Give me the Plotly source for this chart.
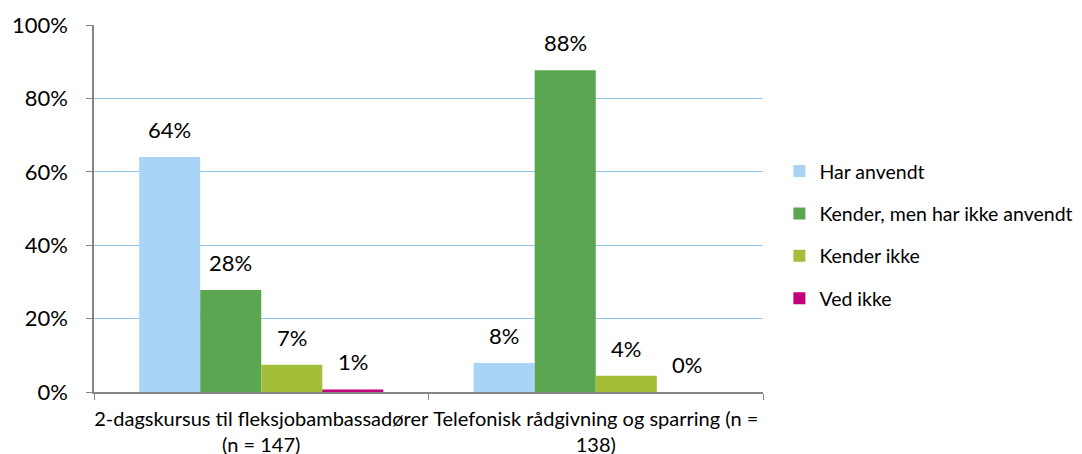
import plotly.graph_objects as go

categories = ["2-dagskursus til fleksjobambassadører<br>(n = 147)",
              "Telefonisk rådgivning og sparring (n =<br>138)"]
series_names = ["Har anvendt", "Kender, men har ikke anvendt", "Kender ikke", "Ved ikke"]
har_anvendt = [64.0, 7.9]
kender_ikke_anvendt = [27.8, 87.7]
kender_ikke = [7.4, 4.4]
ved_ikke = [0.7, 0.0]
labels = [["64%", "8%"], ["28%", "88%"], ["7%", "4%"], ["1%", "0%"]]
colors = ["#A9D4F5", "#5BA651", "#A3BE39", "#C3007A"]
y_ticks = [0, 20, 40, 60, 80, 100]
y_tick_text = ["0%", "20%", "40%", "60%", "80%", "100%"]

FONT = "Lato"
BARGAP = 0.27
series = [har_anvendt, kender_ikke_anvendt, kender_ikke, ved_ikke]
n_series = len(series)

fig = go.Figure()
for i, (name, vals) in enumerate(zip(series_names, series)):
    fig.add_trace(go.Bar(
        x=categories, y=vals, name=name, marker_color=colors[i],
        marker_line_width=0, legendgroup=name,
    ))
    # data labels anchored at the data value, centred on the bar's slot in the group
    bar_w = (1 - BARGAP) / n_series
    for ci, (v, t) in enumerate(zip(vals, labels[i])):
        fig.add_annotation(
            x=ci + (i - (n_series - 1) / 2) * bar_w, y=v, xref="x", yref="y",
            text=t, showarrow=False, yanchor="bottom", yshift=12,
            font=dict(size=22, family=FONT, color="#000000"),
        )

# the page body adds an 8px margin, so the plot area is shifted up/left by 8px
fig.update_layout(
    barmode="group", bargap=BARGAP, bargroupgap=0,
    width=1110, height=454,
    margin=dict(l=86, r=355, t=17, b=70, autoexpand=False),
    paper_bgcolor="white", plot_bgcolor="white",
    font=dict(family=FONT, color="#000000"),
    showlegend=True,
    legend=dict(x=1.0245, y=0.428, xanchor="left", yanchor="middle",
                font=dict(size=19.5, family=FONT), tracegroupgap=14,
                itemwidth=30, traceorder="grouped"),
)
fig.update_yaxes(range=[0, 100], tickvals=y_ticks, ticktext=y_tick_text,
                 showgrid=True, gridcolor="#8EC6EE", gridwidth=1,
                 showline=True, linecolor="#868686", linewidth=1.5,
                 ticks="outside", ticklen=6, tickcolor="#868686",
                 ticklabelstandoff=14, automargin=False,
                 tickfont=dict(size=22, family=FONT), zeroline=False)
fig.update_xaxes(type="category", showline=True, linecolor="#868686", linewidth=1.5,
                 ticks="outside", tickson="boundaries", ticklen=6, tickcolor="#868686",
                 automargin=False, ticklabelstandoff=8, tickangle=0,
                 tickfont=dict(size=20, family=FONT), showgrid=False)

fig.write_html("out.html")
